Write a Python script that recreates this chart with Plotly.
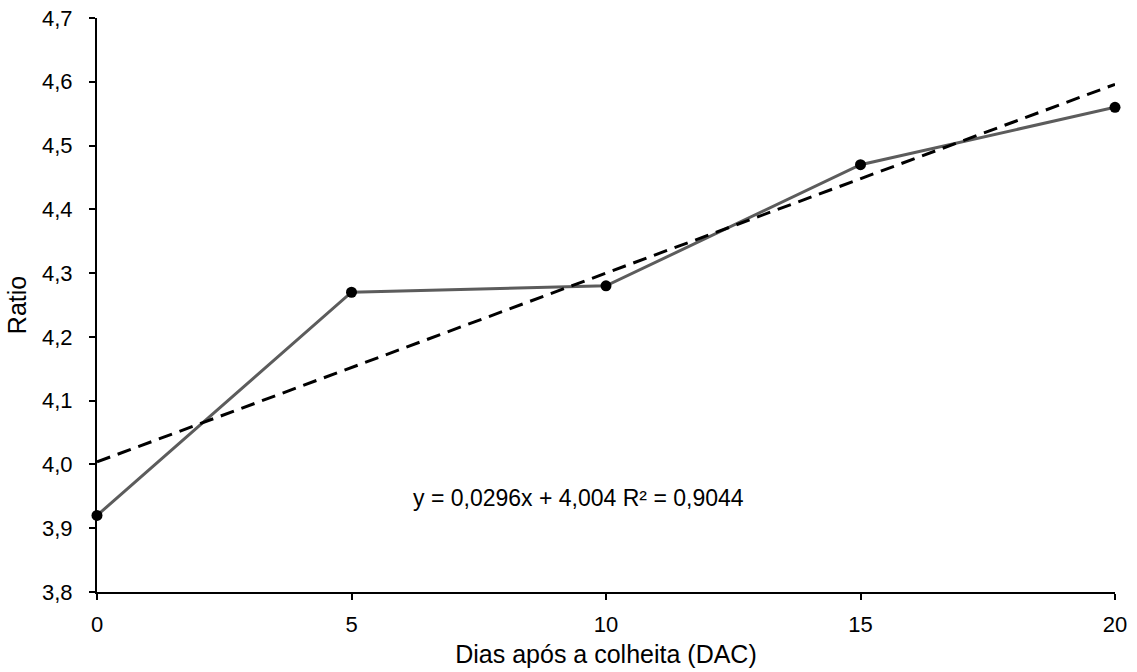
import plotly.graph_objects as go

# Ratio over days after harvest
dias = [0, 5, 10, 15, 20]
ratio = [3.92, 4.27, 4.28, 4.47, 4.56]

# Linear trend: y = 0.0296x + 4.004
slope = 0.0296
intercept = 4.004
trend_x = [0, 20]
trend_y = [intercept + slope * x for x in trend_x]

y_ticks = [3.8, 3.9, 4.0, 4.1, 4.2, 4.3, 4.4, 4.5, 4.6, 4.7]
y_tick_text = [f"{v:.1f}".replace(".", ",") for v in y_ticks]
x_ticks = [0, 5, 10, 15, 20]

font_family = "Liberation Sans, Arial, sans-serif"

fig = go.Figure()
fig.add_trace(go.Scatter(
    x=dias, y=ratio, mode="lines+markers",
    line=dict(color="#5c5c5c", width=3),
    marker=dict(color="black", size=11),
    showlegend=False,
    cliponaxis=False,
))
fig.add_trace(go.Scatter(
    x=trend_x, y=trend_y, mode="lines",
    line=dict(color="black", width=3, dash="14px,8px"),
    showlegend=False,
))

fig.add_annotation(
    x=9.45, y=3.947, xref="x", yref="y",
    text="y = 0,0296x + 4,004 R² = 0,9044",
    showarrow=False,
    font=dict(family=font_family, size=23, color="black"),
)

fig.update_layout(
    width=1137, height=672,
    margin=dict(l=97, r=22, t=18, b=80),
    paper_bgcolor="white", plot_bgcolor="white",
    font=dict(family=font_family, size=22, color="black"),
)
fig.update_xaxes(
    range=[0, 20], tickvals=x_ticks,
    showline=True, linecolor="black", linewidth=2,
    ticks="outside", ticklen=6, tickcolor="black", tickwidth=2,
    showgrid=False, zeroline=False, automargin=False,
    ticklabelstandoff=6,
    title=dict(text="Dias após a colheita (DAC)", font=dict(size=25), standoff=9),
    tickfont=dict(size=22),
)
fig.update_yaxes(
    range=[3.8, 4.7], tickvals=y_ticks, ticktext=y_tick_text,
    showline=True, linecolor="black", linewidth=2,
    ticks="outside", ticklen=6, tickcolor="black", tickwidth=2,
    showgrid=False, zeroline=False, automargin=False,
    ticklabelstandoff=12,
    title=dict(text="Ratio", font=dict(size=25), standoff=8),
    tickfont=dict(size=22),
)

fig.write_html("out.html")
